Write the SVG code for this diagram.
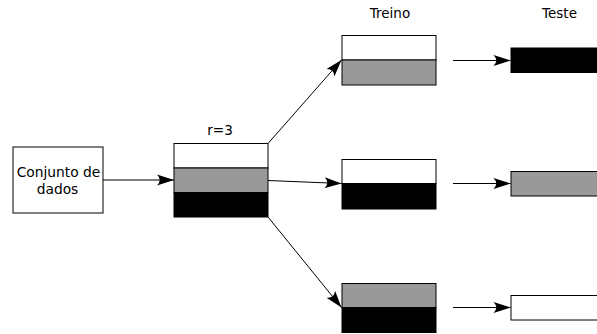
<svg xmlns="http://www.w3.org/2000/svg" width="597" height="334" viewBox="0 0 597 334">
  <style>
    .lbl { font-family: "DejaVu Sans", "Liberation Sans", sans-serif; font-size: 13.5px; fill: #000; text-anchor: middle; }
    .big { font-size: 13.8px; }
    .box { stroke: #000; stroke-width: 1; }
    .w { fill: #fff; }
    .g { fill: #999; }
    .k { fill: #000; }
    .edge { stroke: #000; stroke-width: 1; fill: none; marker-end: url(#arrow); }
  </style>
  <defs>
    <marker id="arrow" markerUnits="userSpaceOnUse" viewBox="-18 -6 19 12" refX="0" refY="0" markerWidth="19" markerHeight="12" orient="auto">
      <path d="M0,0 L-17,-5.5 Q-11.5,0 -17,5.5 Z" fill="#000"/>
    </marker>
  </defs>

  <!-- column headings -->
  <text class="lbl" x="390" y="18.3">Treino</text>
  <text class="lbl" x="559.5" y="18.3">Teste</text>

  <!-- source dataset -->
  <g id="dataset">
    <rect class="box w" x="13" y="147" width="90" height="66"/>
    <text class="lbl big" x="58.5" y="176.5">Conjunto de</text>
    <text class="lbl big" x="57.5" y="194.3">dados</text>
  </g>

  <!-- dataset split into r=3 folds -->
  <g id="folds">
    <text class="lbl" x="220" y="135" style="font-size:13.6px">r=3</text>
    <rect class="box w" x="174" y="143.5" width="94" height="24.5"/>
    <rect class="box g" x="174" y="168" width="94" height="24.5"/>
    <rect class="box k" x="174" y="192.5" width="94" height="24.5"/>
  </g>

  <!-- training sets -->
  <g id="train1">
    <rect class="box w" x="342" y="35.5" width="94" height="24.5"/>
    <rect class="box g" x="342" y="60" width="94" height="25"/>
  </g>
  <g id="train2">
    <rect class="box w" x="342" y="159.5" width="94" height="24"/>
    <rect class="box k" x="342" y="183.5" width="94" height="25.5"/>
  </g>
  <g id="train3">
    <rect class="box g" x="342" y="283.5" width="94" height="24"/>
    <rect class="box k" x="342" y="307.5" width="94" height="25"/>
  </g>

  <!-- test sets -->
  <g id="test1">
    <rect class="box k" x="511" y="48" width="94" height="24.5"/>
  </g>
  <g id="test2">
    <rect class="box g" x="511" y="171.5" width="94" height="24.5"/>
  </g>
  <g id="test3">
    <rect class="box w" x="511" y="295.5" width="94" height="24.5"/>
  </g>

  <!-- connectors -->
  <g id="connectors">
    <line class="edge" x1="103" y1="180" x2="174" y2="180"/>
    <line class="edge" x1="268" y1="143.5" x2="341.5" y2="60"/>
    <line class="edge" x1="268" y1="180.5" x2="341.5" y2="183.5"/>
    <line class="edge" x1="268" y1="217" x2="341.5" y2="307.5"/>
    <line class="edge" x1="453" y1="60.5" x2="510.5" y2="60.5"/>
    <line class="edge" x1="453" y1="183.5" x2="510.5" y2="183.5"/>
    <line class="edge" x1="453" y1="307.5" x2="510.5" y2="307.5"/>
  </g>
</svg>
